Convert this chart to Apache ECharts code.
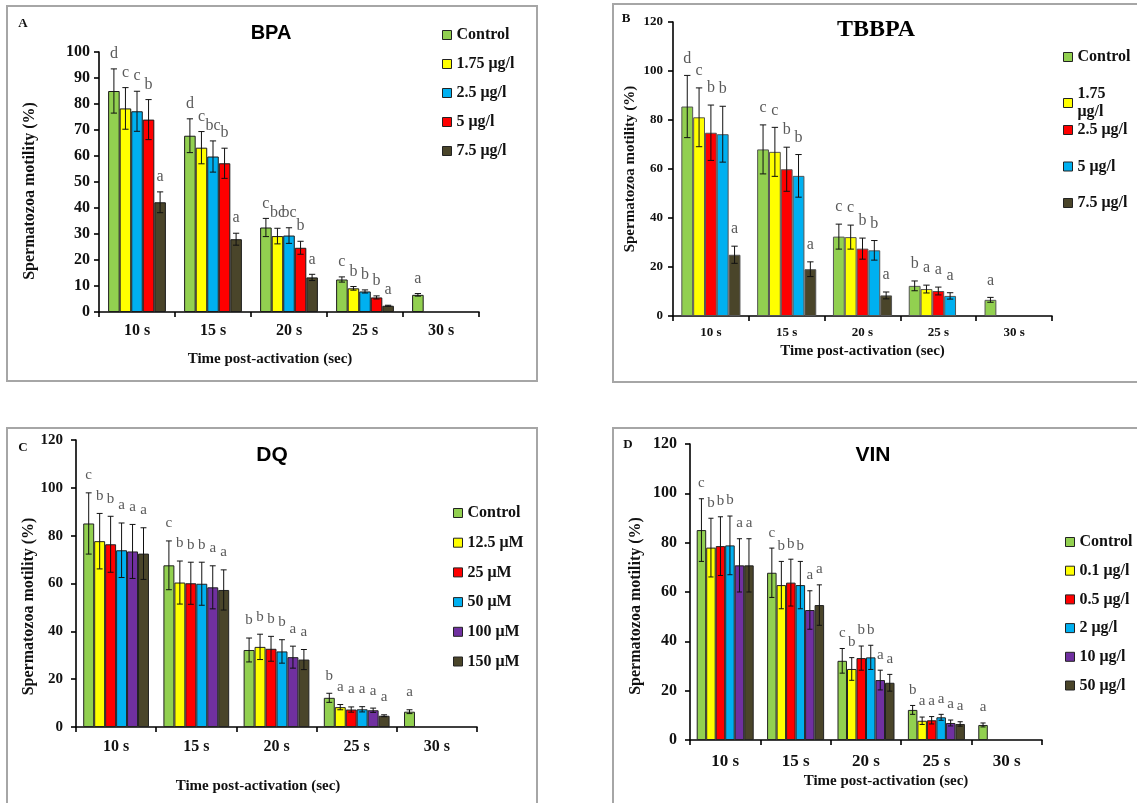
<!DOCTYPE html>
<html><head><meta charset="utf-8">
<script src="https://cdn.jsdelivr.net/npm/echarts@6/dist/echarts.min.js"></script>
<style>html,body{margin:0;padding:0;background:#fff}#c{width:1137px;height:803px}</style>
</head><body><div id="c"></div>
<script>
// ---------- DATA ----------
const categories = ['10 s', '15 s', '20 s', '25 s', '30 s'];

// Panel A – BPA
const bpaNames = ['Control', '1.75 μg/l', '2.5 μg/l', '5 μg/l', '7.5 μg/l'];
const bpaValues = [
  [85.0, 67.8, 32.5, 12.5, 6.6],
  [78.3, 63.2, 29.2, 9.1, null],
  [77.2, 59.8, 29.4, 7.9, null],
  [74.0, 57.2, 24.7, 5.6, null],
  [42.2, 28.0, 13.3, 2.4, null]
];
const bpaErrors = [
  [8.5, 6.5, 3.5, 1.0, 0.5],
  [8.0, 6.2, 3.0, 0.7, null],
  [7.7, 6.0, 3.0, 0.6, null],
  [7.7, 5.8, 2.5, 0.6, null],
  [4.0, 2.3, 1.2, 0.2, null]
];
const bpaLetters = [
  ['d', 'd', 'c', 'c', 'a'],
  ['c', 'c', 'bc', 'b', null],
  ['c', 'bc', 'bc', 'b', null],
  ['b', 'b', 'b', 'b', null],
  ['a', 'a', 'a', 'a', null]
];

// Panel B – TBBPA
const tbbpaNames = ['Control', '1.75 μg/l', '2.5 μg/l', '5 μg/l', '7.5 μg/l'];
const tbbpaValues = [
  [85.5, 68.0, 32.4, 12.3, 6.6],
  [81.1, 67.0, 32.2, 11.0, null],
  [74.8, 59.9, 27.5, 10.2, null],
  [74.2, 57.2, 26.8, 8.2, null],
  [25.0, 19.1, 8.4, null, null]
];
const tbbpaErrors = [
  [12.7, 10.0, 5.1, 2.0, 1.0],
  [12.0, 10.0, 4.9, 1.6, null],
  [11.3, 9.0, 4.3, 1.6, null],
  [11.4, 8.7, 4.0, 1.3, null],
  [3.5, 3.0, 1.4, null, null]
];
const tbbpaLetters = [
  ['d', 'c', 'c', 'b', 'a'],
  ['c', 'c', 'c', 'a', null],
  ['b', 'b', 'b', 'a', null],
  ['b', 'b', 'b', 'a', null],
  ['a', 'a', 'a', null, null]
];

// Panel C – DQ
const dqNames = ['Control', '12.5 μM', '25 μM', '50 μM', '100 μM', '150 μM'];
const dqValues = [
  [85.1, 67.6, 32.2, 12.2, 6.4],
  [77.7, 60.4, 33.5, 8.3, null],
  [76.4, 60.1, 32.7, 7.3, null],
  [73.9, 59.9, 31.6, 7.4, null],
  [73.4, 58.4, 29.2, 7.0, null],
  [72.5, 57.3, 28.2, 4.7, null]
];
const dqErrors = [
  [12.8, 10.2, 5.0, 1.9, 0.8],
  [11.6, 9.0, 5.3, 1.1, null],
  [11.7, 8.8, 5.2, 1.1, null],
  [11.4, 9.0, 4.9, 1.1, null],
  [11.3, 9.0, 4.6, 0.9, null],
  [10.8, 8.4, 4.2, 0.4, null]
];
const dqLetters = [
  ['c', 'c', 'b', 'b', 'a'],
  ['b', 'b', 'b', 'a', null],
  ['b', 'b', 'b', 'a', null],
  ['a', 'b', 'b', 'a', null],
  ['a', 'a', 'a', 'a', null],
  ['a', 'a', 'a', 'a', null]
];

// Panel D – VIN
const vinNames = ['Control', '0.1 μg/l', '0.5 μg/l', '2 μg/l', '10 μg/l', '50 μg/l'];
const vinValues = [
  [85.1, 67.8, 32.1, 12.2, 6.1],
  [78.0, 62.8, 28.8, 7.8, null],
  [78.6, 63.8, 33.2, 8.0, null],
  [78.9, 62.8, 33.5, 9.2, null],
  [70.8, 52.7, 24.3, 6.9, null],
  [70.8, 54.7, 23.2, 6.5, null]
];
const vinErrors = [
  [12.7, 10.0, 5.0, 1.8, 0.8],
  [11.9, 9.6, 4.6, 1.5, null],
  [11.9, 9.5, 4.9, 1.5, null],
  [11.9, 9.6, 4.9, 1.2, null],
  [10.8, 7.8, 4.0, 1.2, null],
  [10.8, 8.2, 3.4, 0.9, null]
];
const vinLetters = [
  ['c', 'c', 'c', 'b', 'a'],
  ['b', 'b', 'b', 'a', null],
  ['b', 'b', 'b', 'a', null],
  ['b', 'b', 'b', 'a', null],
  ['a', 'a', 'a', 'a', null],
  ['a', 'a', 'a', 'a', null]
];

// ---------- STYLE ----------
const GREEN = '#92D050', YELLOW = '#FFFF00', RED = '#FF0000', BLUE = '#00B0F0',
      PURPLE = '#7030A0', DARK = '#4A452A';
const SERIF = '"Liberation Serif", "Times New Roman", serif';
const SANS = '"Liberation Sans", Arial, sans-serif';
const yName = 'Spermatozoa motility (%)';
const xName = 'Time post-activation (sec)';

const panels = [
  { names: bpaNames, values: bpaValues, errors: bpaErrors, letters: bpaLetters,
    colors: [GREEN, YELLOW, BLUE, RED, DARK], border: '#1a1a1a',
    grid: { left: 99, top: 52, width: 380, height: 260 }, max: 100, interval: 10,
    gap: 0.24, tickSize: 16, catSize: 16, catMargin: 11, yMargin: 9,
    xGap: 40, xPad: [0, 38, 0, 0], yGap: 61, yPad: [0, 18, 0, 0], nameSize: 15, yNameSize: 16,
    letterSize: 16, letterGap: 7,
    legend: { left: 442, top: 35, step: 29 } },
  { names: tbbpaNames, values: tbbpaValues, errors: tbbpaErrors, letters: tbbpaLetters,
    colors: [GREEN, YELLOW, RED, BLUE, DARK], border: '#555',
    grid: { left: 673, top: 22, width: 379, height: 294 }, max: 120, interval: 20,
    gap: 0.22, tickSize: 13, catSize: 13, catMargin: 10, yMargin: 10,
    xGap: 28, xPad: [0, 0, 0, 0], yGap: 35, yPad: [0, 0, 0, 0], nameSize: 15, yNameSize: 15,
    letterSize: 16, letterGap: 9,
    legend: { left: 1063, top: 57, step: 36.5 } },
  { names: dqNames, values: dqValues, errors: dqErrors, letters: dqLetters,
    colors: [GREEN, YELLOW, RED, BLUE, PURPLE, DARK], border: '#222',
    grid: { left: 76, top: 440, width: 401, height: 287 }, max: 120, interval: 20,
    gap: 0.18, tickSize: 15, catSize: 16, catMargin: 12, yMargin: 13,
    xGap: 52, xPad: [0, 37, 0, 0], yGap: 39, yPad: [0, 46, 0, 0], nameSize: 15, yNameSize: 16,
    letterSize: 15, letterGap: 10,
    legend: { left: 453, top: 513, step: 29.7 } },
  { names: vinNames, values: vinValues, errors: vinErrors, letters: vinLetters,
    colors: [GREEN, YELLOW, RED, BLUE, PURPLE, DARK], border: '#222',
    grid: { left: 690, top: 444, width: 352, height: 296 }, max: 120, interval: 20,
    gap: 0.19, tickSize: 16, catSize: 17, catMargin: 13, yMargin: 13,
    xGap: 34, xPad: [0, 0, 0, 40], yGap: 46, yPad: [0, 28, 0, 0], nameSize: 15, yNameSize: 16,
    letterSize: 15, letterGap: 8,
    legend: { left: 1065, top: 542, step: 28.7 } }
];

const grids = [], xAxes = [], yAxes = [], series = [], legends = [];

panels.forEach((p, gi) => {
  grids.push(Object.assign({ outerBoundsMode: 'none', containLabel: false }, p.grid));
  xAxes.push({
    gridIndex: gi, type: 'category', data: categories,
    axisLine: { show: true, lineStyle: { color: '#000', width: 1.6 } },
    axisTick: { show: true, length: 5, interval: 0, lineStyle: { color: '#000', width: 1.6 } },
    axisLabel: { interval: 0, margin: p.catMargin, color: '#111', fontFamily: SERIF, fontWeight: 'bold', fontSize: p.catSize },
    splitLine: { show: false },
    name: xName, nameLocation: 'middle', nameGap: p.xGap,
    nameTextStyle: { color: '#111', fontFamily: SERIF, fontWeight: 'bold', fontSize: p.nameSize, padding: p.xPad }
  });
  yAxes.push({
    gridIndex: gi, type: 'value', min: 0, max: p.max, interval: p.interval,
    axisLine: { show: true, lineStyle: { color: '#000', width: 1.6 } },
    axisTick: { show: true, length: 5, lineStyle: { color: '#000', width: 1.6 } },
    axisLabel: { margin: p.yMargin, color: '#111', fontFamily: SERIF, fontWeight: 'bold', fontSize: p.tickSize },
    splitLine: { show: false },
    name: yName, nameLocation: 'middle', nameGap: p.yGap,
    nameTextStyle: { color: '#111', fontFamily: SERIF, fontWeight: 'bold', fontSize: p.yNameSize, padding: p.yPad }
  });
  const n = p.names.length;
  p.names.forEach((name, k) => {
    series.push({
      type: 'bar', name: name, xAxisIndex: gi, yAxisIndex: gi,
      data: p.values[k], barGap: '0%', barCategoryGap: (p.gap * 100) + '%',
      itemStyle: { color: p.colors[k], borderColor: p.border, borderWidth: 1 },
      silent: true, z: 2
    });
  });
  p.names.forEach((name, k) => {
    const vals = p.values[k], errs = p.errors[k], lets = p.letters[k];
    const data = [];
    vals.forEach((v, i) => { if (v != null) data.push([i, v, errs[i] == null ? 0 : errs[i]]); });
    series.push({
      type: 'custom', xAxisIndex: gi, yAxisIndex: gi, z: 5, silent: true, data: data,
      renderItem: function (params, api) {
        const i = api.value(0), v = api.value(1), e = api.value(2);
        const base = api.coord([i, v]);
        const hi = api.coord([i, v + e]);
        const lo = api.coord([i, Math.max(0, v - e)]);
        const band = api.size([1, 0])[0];
        const used = band * (1 - p.gap);
        const bw = used / n;
        const x = base[0] - used / 2 + (k + 0.5) * bw;
        const cap = Math.max(2.5, bw * 0.27);
        const st = { stroke: '#111', lineWidth: 1 };
        const children = [];
        if (e > 0) {
          children.push({ type: 'line', shape: { x1: x, y1: hi[1], x2: x, y2: lo[1] }, style: st });
          children.push({ type: 'line', shape: { x1: x - cap, y1: hi[1], x2: x + cap, y2: hi[1] }, style: st });
          children.push({ type: 'line', shape: { x1: x - cap, y1: lo[1], x2: x + cap, y2: lo[1] }, style: st });
        }
        if (lets[i]) {
          children.push({ type: 'text', style: { text: lets[i], x: x, y: hi[1] - p.letterGap,
            textAlign: 'center', textVerticalAlign: 'bottom', fill: '#5a5a5a',
            font: p.letterSize + 'px ' + SERIF } });
        }
        return { type: 'group', children: children };
      }
    });
  });
  p.names.forEach((name, k) => {
    const wrapped = (gi === 1 && k === 1);
    let top = p.legend.top + k * p.legend.step - 8;
    if (wrapped) top = p.legend.top + k * p.legend.step - 8.5;
    legends.push({
      show: true, left: p.legend.left, top: top, padding: 0,
      itemWidth: 9, itemHeight: 9, selectedMode: false,
      data: [{ name: name, icon: 'rect', itemStyle: { color: p.colors[k], borderColor: '#222', borderWidth: 1 } }],
      formatter: wrapped ? (nm => nm.replace(' ', '\n')) : (nm => nm),
      textStyle: { color: '#111', fontFamily: SERIF, fontWeight: 'bold', fontSize: 16, lineHeight: wrapped ? 18 : 16 }
    });
  });
});

const boxStyle = { fill: 'none', stroke: '#a6a6a6', lineWidth: 2 };
const graphic = [
  { type: 'rect', shape: { x: 7, y: 6, width: 530, height: 375 }, style: boxStyle, silent: true },
  { type: 'rect', shape: { x: 613, y: 4, width: 540, height: 378 }, style: boxStyle, silent: true },
  { type: 'rect', shape: { x: 7, y: 428, width: 530, height: 400 }, style: boxStyle, silent: true },
  { type: 'rect', shape: { x: 613, y: 428, width: 540, height: 400 }, style: boxStyle, silent: true },
  { type: 'text', x: 23, y: 24, style: { text: 'A', font: 'bold 13px ' + SERIF, fill: '#111', textAlign: 'center', textVerticalAlign: 'middle' } },
  { type: 'text', x: 626, y: 19, style: { text: 'B', font: 'bold 13px ' + SERIF, fill: '#111', textAlign: 'center', textVerticalAlign: 'middle' } },
  { type: 'text', x: 23, y: 448, style: { text: 'C', font: 'bold 13px ' + SERIF, fill: '#111', textAlign: 'center', textVerticalAlign: 'middle' } },
  { type: 'text', x: 628, y: 445, style: { text: 'D', font: 'bold 13px ' + SERIF, fill: '#111', textAlign: 'center', textVerticalAlign: 'middle' } },
  { type: 'text', x: 271, y: 33, style: { text: 'BPA', font: 'bold 20px ' + SANS, fill: '#000', textAlign: 'center', textVerticalAlign: 'middle' } },
  { type: 'text', x: 876, y: 30, style: { text: 'TBBPA', font: 'bold 24px ' + SERIF, fill: '#000', textAlign: 'center', textVerticalAlign: 'middle' } },
  { type: 'text', x: 272, y: 455, style: { text: 'DQ', font: 'bold 21px ' + SANS, fill: '#000', textAlign: 'center', textVerticalAlign: 'middle' } },
  { type: 'text', x: 873, y: 455, style: { text: 'VIN', font: 'bold 21px ' + SANS, fill: '#000', textAlign: 'center', textVerticalAlign: 'middle' } }
];

const chart = echarts.init(document.getElementById('c'), null, { renderer: 'canvas' });
chart.setOption({
  animation: false,
  backgroundColor: '#fff',
  grid: grids, xAxis: xAxes, yAxis: yAxes,
  legend: legends, series: series, graphic: graphic
});
</script>
</body></html>
